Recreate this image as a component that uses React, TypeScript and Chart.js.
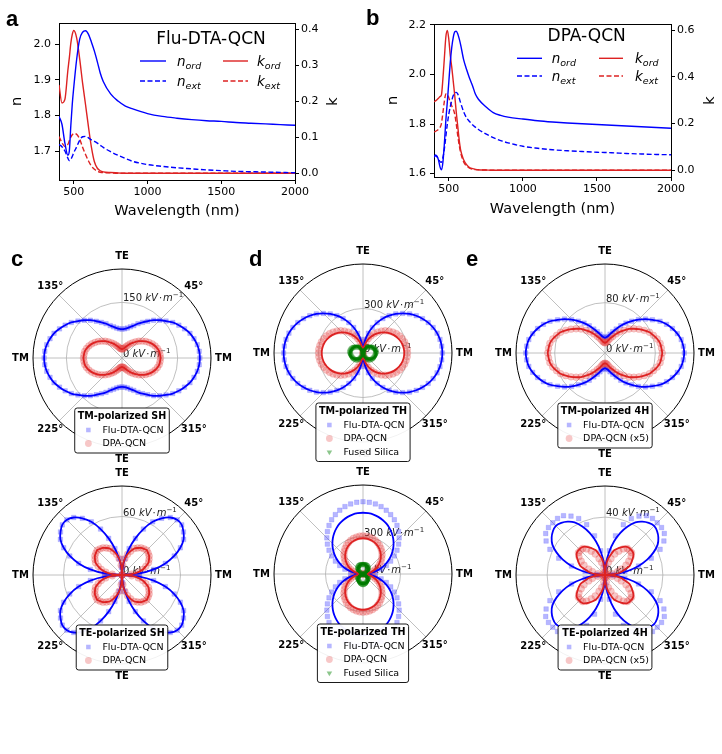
import React, { useEffect, useRef } from 'react';
import { Chart, registerables } from 'chart.js';

Chart.register(...registerables);

const FONT = '"DejaVu Sans", Verdana, sans-serif';
const BLUE = '#0000ff';
const RED = '#dd2222';
const GREEN = '#007a00';

// ---------- Optical constants, Flu-DTA-QCN (panel a) ----------
const WL_A = [400, 420, 440, 460, 470, 480, 490, 500, 520, 540, 560, 580, 600, 620, 640, 660, 680, 700, 750, 800, 850, 900, 1000, 1100, 1200, 1300, 1400, 1500, 1600, 1700, 1800, 1900, 2000];
const A_N_ORD = [1.797, 1.775, 1.722, 1.688, 1.700, 1.770, 1.832, 1.878, 1.958, 2.013, 2.033, 2.037, 2.027, 2.005, 1.980, 1.950, 1.918, 1.895, 1.860, 1.840, 1.826, 1.818, 1.805, 1.797, 1.792, 1.788, 1.785, 1.783, 1.780, 1.778, 1.776, 1.774, 1.772];
const A_N_EXT = [1.718, 1.712, 1.700, 1.680, 1.673, 1.676, 1.685, 1.695, 1.712, 1.730, 1.740, 1.741, 1.737, 1.731, 1.727, 1.722, 1.716, 1.710, 1.698, 1.688, 1.679, 1.671, 1.662, 1.657, 1.653, 1.650, 1.647, 1.645, 1.643, 1.642, 1.641, 1.640, 1.639];
const A_K_ORD = [0.245, 0.195, 0.205, 0.285, 0.320, 0.360, 0.385, 0.396, 0.375, 0.318, 0.250, 0.190, 0.128, 0.072, 0.032, 0.014, 0.007, 0.004, 0.002, 0.001, 0, 0, 0, 0, 0, 0, 0, 0, 0, 0, 0, 0, 0];
const A_K_EXT = [0.102, 0.085, 0.074, 0.080, 0.090, 0.100, 0.107, 0.110, 0.108, 0.095, 0.072, 0.052, 0.034, 0.020, 0.011, 0.006, 0.003, 0.002, 0.001, 0, 0, 0, 0, 0, 0, 0, 0, 0, 0, 0, 0, 0, 0];

// ---------- Optical constants, DPA-QCN (panel b) ----------
const WL_B = [400, 410, 420, 430, 440, 450, 460, 470, 480, 490, 500, 510, 520, 530, 540, 550, 560, 570, 580, 600, 620, 640, 660, 680, 700, 750, 800, 850, 900, 1000, 1100, 1200, 1300, 1400, 1500, 1600, 1700, 1800, 1900, 2000];
const B_N_ORD = [1.665, 1.675, 1.670, 1.655, 1.628, 1.615, 1.645, 1.720, 1.815, 1.890, 1.970, 2.050, 2.110, 2.150, 2.172, 2.175, 2.165, 2.145, 2.120, 2.060, 2.020, 1.985, 1.955, 1.920, 1.900, 1.870, 1.846, 1.835, 1.828, 1.820, 1.813, 1.808, 1.804, 1.801, 1.798, 1.795, 1.792, 1.789, 1.786, 1.783];
const B_N_EXT = [1.668, 1.672, 1.668, 1.660, 1.648, 1.645, 1.665, 1.700, 1.750, 1.800, 1.840, 1.870, 1.895, 1.915, 1.925, 1.928, 1.922, 1.905, 1.885, 1.850, 1.825, 1.810, 1.797, 1.787, 1.778, 1.760, 1.745, 1.733, 1.724, 1.710, 1.702, 1.696, 1.692, 1.689, 1.686, 1.684, 1.681, 1.679, 1.677, 1.676];
const B_K_ORD = [0.293, 0.297, 0.302, 0.308, 0.315, 0.322, 0.390, 0.480, 0.570, 0.598, 0.560, 0.490, 0.440, 0.380, 0.320, 0.250, 0.190, 0.130, 0.086, 0.045, 0.024, 0.012, 0.007, 0.004, 0.002, 0.001, 0, 0, 0, 0, 0, 0, 0, 0, 0, 0, 0, 0, 0, 0];
const B_K_EXT = [0.164, 0.166, 0.170, 0.175, 0.182, 0.200, 0.245, 0.295, 0.327, 0.326, 0.310, 0.290, 0.275, 0.262, 0.240, 0.200, 0.150, 0.108, 0.075, 0.036, 0.018, 0.009, 0.005, 0.003, 0.002, 0.001, 0, 0, 0, 0, 0, 0, 0, 0, 0, 0, 0, 0, 0, 0];

const WL_TICKS = [500, 1000, 1500, 2000];
const N_TICKS_A = [1.7, 1.8, 1.9, 2.0];
const K_TICKS_A = [0, 0.1, 0.2, 0.3, 0.4];
const N_TICKS_B = [1.6, 1.8, 2.0, 2.2];
const K_TICKS_B = [0, 0.2, 0.4, 0.6];

// ---------- Polarization dependence (field amplitude, kV/m), 0..355 deg ----------
const ANGLES = [0, 5, 10, 15, 20, 25, 30, 35, 40, 45, 50, 55, 60, 65, 70, 75, 80, 85, 90, 95, 100, 105, 110, 115, 120, 125, 130, 135, 140, 145, 150, 155, 160, 165, 170, 175, 180, 185, 190, 195, 200, 205, 210, 215, 220, 225, 230, 235, 240, 245, 250, 255, 260, 265, 270, 275, 280, 285, 290, 295, 300, 305, 310, 315, 320, 325, 330, 335, 340, 345, 350, 355];
const ANGLE_TICKS = [0, 45, 90, 135, 180, 225, 270, 315];
const ANGLE_TICK_LABELS = ['TM', '45°', 'TE', '135°', 'TM', '225°', 'TE', '315°'];

// c: second harmonic
const C_TM_FLU = [210, 209, 206, 201, 195, 186, 177, 167, 155, 144, 133, 121, 111, 102, 93, 87, 82, 79, 78, 79, 82, 87, 93, 102, 111, 121, 133, 144, 155, 167, 177, 186, 195, 201, 206, 209, 210, 209, 206, 201, 195, 186, 177, 167, 155, 144, 133, 121, 111, 102, 93, 87, 82, 79, 78, 79, 82, 87, 93, 102, 111, 121, 133, 144, 155, 167, 177, 186, 195, 201, 206, 209];
const C_TM_DPA = [104, 103, 102, 99, 95, 90, 84, 78, 71, 64, 57, 50, 44, 38, 33, 29, 26, 25, 24, 25, 26, 29, 33, 38, 44, 50, 57, 64, 71, 78, 84, 90, 95, 99, 102, 103, 104, 103, 102, 99, 95, 90, 84, 78, 71, 64, 57, 50, 44, 38, 33, 29, 26, 25, 24, 25, 26, 29, 33, 38, 44, 50, 57, 64, 71, 78, 84, 90, 95, 99, 102, 103];
const C_TE_FLU = [0, 18, 33, 46, 57, 66, 73, 77, 80, 80, 77, 71, 63, 52, 40, 28, 17, 8, 0, 8, 17, 28, 40, 52, 63, 71, 77, 80, 80, 77, 73, 66, 57, 46, 33, 18, 0, 18, 33, 46, 57, 66, 73, 77, 80, 80, 77, 71, 63, 52, 40, 28, 17, 8, 0, 8, 17, 28, 40, 52, 63, 71, 77, 80, 80, 77, 73, 66, 57, 46, 33, 18];
const C_TE_DPA = [0, 10, 17, 22, 26, 30, 32, 34, 35, 36, 35, 34, 32, 30, 26, 22, 17, 10, 0, 10, 17, 22, 26, 30, 32, 34, 35, 36, 35, 34, 32, 30, 26, 22, 17, 10, 0, 10, 17, 22, 26, 30, 32, 34, 35, 36, 35, 34, 32, 30, 26, 22, 17, 10, 0, 10, 17, 22, 26, 30, 32, 34, 35, 36, 35, 34, 32, 30, 26, 22, 17, 10];

// d: third harmonic
const D_TM_FLU = [535, 533, 527, 517, 503, 485, 463, 438, 410, 378, 344, 307, 268, 226, 183, 138, 93, 47, 0, 47, 93, 138, 183, 226, 268, 307, 344, 378, 410, 438, 463, 485, 503, 517, 527, 533, 535, 533, 527, 517, 503, 485, 463, 438, 410, 378, 344, 307, 268, 226, 183, 138, 93, 47, 0, 47, 93, 138, 183, 226, 268, 307, 344, 378, 410, 438, 463, 485, 503, 517, 527, 533];
const D_TM_DPA_FIT = [278, 277, 274, 269, 261, 252, 241, 228, 213, 197, 179, 159, 139, 117, 95, 72, 48, 24, 0, 24, 48, 72, 95, 117, 139, 159, 179, 197, 213, 228, 241, 252, 261, 269, 274, 277, 278, 277, 274, 269, 261, 252, 241, 228, 213, 197, 179, 159, 139, 117, 95, 72, 48, 24, 0, 24, 48, 72, 95, 117, 139, 159, 179, 197, 213, 228, 241, 252, 261, 269, 274, 277];
const D_TM_DPA = [300, 299, 295, 290, 282, 272, 260, 246, 230, 212, 193, 172, 150, 127, 103, 78, 52, 26, 0, 26, 52, 78, 103, 127, 150, 172, 193, 212, 230, 246, 260, 272, 282, 290, 295, 299, 300, 299, 295, 290, 282, 272, 260, 246, 230, 212, 193, 172, 150, 127, 103, 78, 52, 26, 0, 26, 52, 78, 103, 127, 150, 172, 193, 212, 230, 246, 260, 272, 282, 290, 295, 299];
const D_TM_SIL = [87, 87, 86, 84, 82, 79, 75, 71, 67, 62, 56, 50, 44, 37, 30, 23, 15, 8, 0, 8, 15, 23, 30, 37, 44, 50, 56, 62, 67, 71, 75, 79, 82, 84, 86, 87, 87, 87, 86, 84, 82, 79, 75, 71, 67, 62, 56, 50, 44, 37, 30, 23, 15, 8, 0, 8, 15, 23, 30, 37, 44, 50, 56, 62, 67, 71, 75, 79, 82, 84, 86, 87];
const D_TE_FLU_FIT = [0, 43, 85, 127, 168, 207, 245, 281, 315, 346, 375, 401, 424, 444, 460, 473, 483, 488, 490, 488, 483, 473, 460, 444, 424, 401, 375, 346, 315, 281, 245, 207, 168, 127, 85, 43, 0, 43, 85, 127, 168, 207, 245, 281, 315, 346, 375, 401, 424, 444, 460, 473, 483, 488, 490, 488, 483, 473, 460, 444, 424, 401, 375, 346, 315, 281, 245, 207, 168, 127, 85, 43];
const D_TE_FLU = [0, 50, 100, 150, 198, 244, 289, 332, 372, 409, 443, 474, 501, 524, 543, 558, 569, 576, 578, 576, 569, 558, 543, 524, 501, 474, 443, 409, 372, 332, 289, 244, 198, 150, 100, 50, 0, 50, 100, 150, 198, 244, 289, 332, 372, 409, 443, 474, 501, 524, 543, 558, 569, 576, 578, 576, 569, 558, 543, 524, 501, 474, 443, 409, 372, 332, 289, 244, 198, 150, 100, 50];
const D_TE_DPA_FIT = [0, 25, 50, 74, 98, 121, 143, 164, 184, 202, 219, 234, 248, 259, 269, 276, 282, 285, 286, 285, 282, 276, 269, 259, 248, 234, 219, 202, 184, 164, 143, 121, 98, 74, 50, 25, 0, 25, 50, 74, 98, 121, 143, 164, 184, 202, 219, 234, 248, 259, 269, 276, 282, 285, 286, 285, 282, 276, 269, 259, 248, 234, 219, 202, 184, 164, 143, 121, 98, 74, 50, 25];
const D_TE_DPA = [0, 27, 53, 79, 104, 129, 153, 175, 196, 216, 234, 250, 264, 276, 287, 295, 300, 304, 305, 304, 300, 295, 287, 276, 264, 250, 234, 216, 196, 175, 153, 129, 104, 79, 53, 27, 0, 27, 53, 79, 104, 129, 153, 175, 196, 216, 234, 250, 264, 276, 287, 295, 300, 304, 305, 304, 300, 295, 287, 276, 264, 250, 234, 216, 196, 175, 153, 129, 104, 79, 53, 27];
const D_TE_SIL = [0, 7, 14, 21, 27, 34, 40, 46, 51, 57, 61, 66, 69, 73, 75, 77, 79, 80, 80, 80, 79, 77, 75, 73, 69, 66, 61, 57, 51, 46, 40, 34, 27, 21, 14, 7, 0, 7, 14, 21, 27, 34, 40, 46, 51, 57, 61, 66, 69, 73, 75, 77, 79, 80, 80, 80, 79, 77, 75, 73, 69, 66, 61, 57, 51, 46, 40, 34, 27, 21, 14, 7];

// e: fourth harmonic
const E_TM_FLU = [126, 125, 123, 119, 114, 108, 101, 92, 84, 75, 66, 58, 50, 42, 36, 31, 27, 25, 24, 25, 27, 31, 36, 42, 50, 58, 66, 75, 84, 92, 101, 108, 114, 119, 123, 125, 126, 125, 123, 119, 114, 108, 101, 92, 84, 75, 66, 58, 50, 42, 36, 31, 27, 25, 24, 25, 27, 31, 36, 42, 50, 58, 66, 75, 84, 92, 101, 108, 114, 119, 123, 125];
const E_TM_DPA = [91, 90, 89, 86, 82, 78, 72, 66, 60, 54, 47, 41, 35, 29, 25, 21, 18, 17, 16, 17, 18, 21, 25, 29, 35, 41, 47, 54, 60, 66, 72, 78, 82, 86, 89, 90, 91, 90, 89, 86, 82, 78, 72, 66, 60, 54, 47, 41, 35, 29, 25, 21, 18, 17, 16, 17, 18, 21, 25, 29, 35, 41, 47, 54, 60, 66, 72, 78, 82, 86, 89, 90];
const E_TE_FLU_FIT = [0, 8, 16, 24, 31, 37, 42, 45, 47, 48, 47, 45, 42, 37, 31, 24, 16, 8, 0, 8, 16, 24, 31, 37, 42, 45, 47, 48, 47, 45, 42, 37, 31, 24, 16, 8, 0, 8, 16, 24, 31, 37, 42, 45, 47, 48, 47, 45, 42, 37, 31, 24, 16, 8, 0, 8, 16, 24, 31, 37, 42, 45, 47, 48, 47, 45, 42, 37, 31, 24, 16, 8];
const E_TE_FLU = [0, 6, 14, 24, 34, 42, 47, 50, 51, 51, 51, 50, 47, 43, 37, 28, 17, 7, 0, 7, 17, 28, 37, 43, 47, 50, 51, 51, 51, 50, 47, 42, 34, 24, 14, 6, 0, 6, 14, 24, 34, 42, 47, 50, 51, 51, 51, 50, 47, 43, 37, 28, 17, 7, 0, 7, 17, 28, 37, 43, 47, 50, 51, 51, 51, 50, 47, 42, 34, 24, 14, 6];
const E_TE_DPA_FIT = [0, 6, 11, 14, 18, 20, 22, 24, 25, 25, 25, 24, 22, 20, 18, 14, 11, 6, 0, 6, 11, 14, 18, 20, 22, 24, 25, 25, 25, 24, 22, 20, 18, 14, 11, 6, 0, 6, 11, 14, 18, 20, 22, 24, 25, 25, 25, 24, 22, 20, 18, 14, 11, 6, 0, 6, 11, 14, 18, 20, 22, 24, 25, 25, 25, 24, 22, 20, 18, 14, 11, 6];
const E_TE_DPA = [0, 2, 5, 9, 12, 16, 19, 22, 24, 24, 24, 22, 19, 16, 12, 9, 5, 2, 0, 2, 5, 9, 12, 16, 19, 22, 24, 24, 24, 22, 19, 16, 12, 9, 5, 2, 0, 2, 5, 9, 12, 16, 19, 22, 24, 24, 24, 22, 19, 16, 12, 9, 5, 2, 0, 2, 5, 9, 12, 16, 19, 22, 24, 24, 24, 22, 19, 16, 12, 9, 5, 2];

// ---------- Spectrum panels ----------
type SpectrumPanel = {
  name: string; wl: number[]; nOrd: number[]; nExt: number[]; kOrd: number[]; kExt: number[];
  nRange: [number, number]; kRange: [number, number]; nTicks: number[]; kTicks: number[];
  padTop: number; leftW: number; rightW: number; xH: number;
  nameX: number; nameY: number; legBlue: [number, number]; legRed: [number, number];
  legRows: [number, number]; legTextBlue: number; legTextRed: number;
  xTitleY: number; nTitleX: number; kTitleX: number;
};

const PANEL_A: SpectrumPanel = {
  name: 'Flu-DTA-QCN', wl: WL_A, nOrd: A_N_ORD, nExt: A_N_EXT, kOrd: A_K_ORD, kExt: A_K_EXT,
  nRange: [1.6187, 2.0589], kRange: [-0.0186, 0.4167], nTicks: N_TICKS_A, kTicks: K_TICKS_A,
  padTop: 23, leftW: 59, rightW: 65, xH: 45,
  nameX: 211, nameY: 40, legBlue: [140, 166], legRed: [223, 248], legRows: [61, 81], legTextBlue: 177, legTextRed: 257,
  xTitleY: 211.5, nTitleX: 17.5, kTitleX: 333,
};

const PANEL_B: SpectrumPanel = {
  name: 'DPA-QCN', wl: WL_B, nOrd: B_N_ORD, nExt: B_N_EXT, kOrd: B_K_ORD, kExt: B_K_EXT,
  nRange: [1.586, 2.204], kRange: [-0.0287, 0.6257], nTicks: N_TICKS_B, kTicks: K_TICKS_B,
  padTop: 24, leftW: 74, rightW: 51, xH: 48,
  nameX: 226.7, nameY: 36.7, legBlue: [157, 182], legRed: [239, 263], legRows: [58.3, 76], legTextBlue: 191.7, legTextRed: 275,
  xTitleY: 209, nTitleX: 33, kTitleX: 350,
};

function drawSubLabel(ctx: CanvasRenderingContext2D, x: number, y: number, main: string, sub: string) {
  ctx.textAlign = 'left';
  ctx.textBaseline = 'alphabetic';
  ctx.font = `italic 13.5px ${FONT}`;
  ctx.fillText(main, x, y);
  const w = ctx.measureText(main).width;
  ctx.font = `italic 9.5px ${FONT}`;
  ctx.fillText(sub, x + w, y + 3);
}

function spectrumDecor(p: SpectrumPanel) {
  return {
    id: 'spectrumDecor',
    afterDraw(chart: any) {
      const { ctx, chartArea: a } = chart;
      ctx.save();
      ctx.strokeStyle = '#000';
      ctx.lineWidth = 1;
      const ty = Math.round(a.top) + 0.5;
      ctx.beginPath();
      ctx.moveTo(a.left, ty);
      ctx.lineTo(a.right, ty);
      ctx.stroke();

      ctx.fillStyle = '#000';
      ctx.textAlign = 'center';
      ctx.textBaseline = 'middle';
      ctx.font = `14.5px ${FONT}`;
      ctx.fillText('Wavelength (nm)', (a.left + a.right) / 2, p.xTitleY);
      const my = (a.top + a.bottom) / 2;
      for (const [t, x] of [['n', p.nTitleX], ['k', p.kTitleX]] as [string, number][]) {
        ctx.save();
        ctx.translate(x, my);
        ctx.rotate(-Math.PI / 2);
        ctx.fillText(t, 0, 0);
        ctx.restore();
      }
      ctx.font = `17px ${FONT}`;
      ctx.fillText(p.name, p.nameX, p.nameY);

      // legend: ordinary / extraordinary
      const rows: [string, number[]][] = [
        ['ord', []],
        ['ext', [5, 2.5]],
      ];
      rows.forEach(([sub, dash], i) => {
        const y = p.legRows[i];
        ctx.lineWidth = 1.4;
        ctx.setLineDash(dash);
        ctx.strokeStyle = BLUE;
        ctx.beginPath(); ctx.moveTo(p.legBlue[0], y); ctx.lineTo(p.legBlue[1], y); ctx.stroke();
        ctx.strokeStyle = RED;
        ctx.beginPath(); ctx.moveTo(p.legRed[0], y); ctx.lineTo(p.legRed[1], y); ctx.stroke();
        ctx.setLineDash([]);
        ctx.fillStyle = '#000';
        drawSubLabel(ctx, p.legTextBlue, y + 4.5, 'n', sub);
        drawSubLabel(ctx, p.legTextRed, y + 4.5, 'k', sub);
      });
      ctx.restore();
    },
  };
}

function axisTicks(values: number[]) {
  return (ax: any) => { ax.ticks = values.map((v) => ({ value: v })); };
}

function spectrumConfig(p: SpectrumPanel): any {
  const pts = (ys: number[]) => p.wl.map((x, i) => ({ x, y: ys[i] }));
  const common = { pointRadius: 0, fill: false, borderWidth: 1.4, cubicInterpolationMode: 'monotone' };
  const tickFont = { family: FONT, size: 11 };
  const grid = { drawOnChartArea: false, color: '#000', tickColor: '#000', tickLength: 4, tickWidth: 1 };
  const border = { color: '#000', width: 1 };
  return {
    type: 'line',
    data: {
      datasets: [
        { ...common, data: pts(p.nOrd), yAxisID: 'yN', borderColor: BLUE },
        { ...common, data: pts(p.nExt), yAxisID: 'yN', borderColor: BLUE, borderDash: [5, 2.5] },
        { ...common, data: pts(p.kOrd), yAxisID: 'yK', borderColor: RED },
        { ...common, data: pts(p.kExt), yAxisID: 'yK', borderColor: RED, borderDash: [5, 2.5] },
      ],
    },
    options: {
      responsive: false,
      animation: false,
      events: [],
      devicePixelRatio: 1,
      layout: { padding: { top: p.padTop, left: 0, right: 0, bottom: 0 } },
      plugins: { legend: { display: false }, tooltip: { enabled: false } },
      scales: {
        x: {
          type: 'linear', min: 400, max: 2000,
          afterBuildTicks: axisTicks(WL_TICKS),
          afterFit: (ax: any) => { ax.height = p.xH; },
          ticks: { font: tickFont, color: '#000', padding: 2, maxRotation: 0, autoSkip: false, callback: (v: any) => String(v) },
          grid, border,
        },
        yN: {
          type: 'linear', position: 'left', min: p.nRange[0], max: p.nRange[1],
          afterBuildTicks: axisTicks(p.nTicks),
          afterFit: (ax: any) => { ax.width = p.leftW; },
          ticks: { font: tickFont, color: '#000', padding: 4, autoSkip: false, callback: (v: any) => Number(v).toFixed(1) },
          grid, border,
        },
        yK: {
          type: 'linear', position: 'right', min: p.kRange[0], max: p.kRange[1],
          afterBuildTicks: axisTicks(p.kTicks),
          afterFit: (ax: any) => { ax.width = p.rightW; },
          ticks: { font: tickFont, color: '#000', padding: 2, autoSkip: false, callback: (v: any) => Number(v).toFixed(1) },
          grid, border,
        },
      },
    },
    plugins: [spectrumDecor(p)],
  };
}

// ---------- Polar panels ----------
type Marker = 'rect' | 'circle' | 'triangle';
type PolarSeries = {
  label: string; fit: number[]; data: number[];
  line: string; fill: string; edge: string; marker: Marker; radius: number; lineWidth: number;
};
type PolarPanel = { key: string; left: number; top: number; title: string; rMax: number; rTick: number; series: PolarSeries[] };

const flu = (fit: number[], data: number[]): PolarSeries => ({
  label: 'Flu-DTA-QCN', fit, data, line: BLUE, fill: 'rgba(80,80,255,0.42)', edge: 'rgba(80,80,255,0.35)', marker: 'rect', radius: 3.2, lineWidth: 1.8,
});
const dpa = (fit: number[], data: number[], label: string): PolarSeries => ({
  label, fit, data, line: RED, fill: 'rgba(228,70,70,0.3)', edge: 'rgba(228,70,70,0.3)', marker: 'circle', radius: 3.4, lineWidth: 1.8,
});
const silica = (fit: number[], data: number[]): PolarSeries => ({
  label: 'Fused Silica', fit, data, line: GREEN, fill: 'rgba(0,128,0,0.45)', edge: 'rgba(0,128,0,0.45)', marker: 'triangle', radius: 3.2, lineWidth: 2.2,
});

const POLARS: PolarPanel[] = [
  { key: 'c1', left: 2, top: 238, title: 'TM-polarized SH', rMax: 240, rTick: 150, series: [flu(C_TM_FLU, C_TM_FLU), dpa(C_TM_DPA, C_TM_DPA, 'DPA-QCN')] },
  { key: 'd1', left: 243, top: 233, title: 'TM-polarized TH', rMax: 600, rTick: 300, series: [flu(D_TM_FLU, D_TM_FLU), dpa(D_TM_DPA_FIT, D_TM_DPA, 'DPA-QCN'), silica(D_TM_SIL, D_TM_SIL)] },
  { key: 'e1', left: 485, top: 233, title: 'TM-polarized 4H', rMax: 141.5, rTick: 80, series: [flu(E_TM_FLU, E_TM_FLU), dpa(E_TM_DPA, E_TM_DPA, 'DPA-QCN (x5)')] },
  { key: 'c2', left: 2, top: 455, title: 'TE-polarized SH', rMax: 91.3, rTick: 60, series: [flu(C_TE_FLU, C_TE_FLU), dpa(C_TE_DPA, C_TE_DPA, 'DPA-QCN')] },
  { key: 'd2', left: 243, top: 454, title: 'TE-polarized TH', rMax: 712, rTick: 300, series: [flu(D_TE_FLU_FIT, D_TE_FLU), dpa(D_TE_DPA_FIT, D_TE_DPA, 'DPA-QCN'), silica(D_TE_SIL, D_TE_SIL)] },
  { key: 'e2', left: 485, top: 455, title: 'TE-polarized 4H', rMax: 61.5, rTick: 40, series: [flu(E_TE_FLU_FIT, E_TE_FLU), dpa(E_TE_DPA_FIT, E_TE_DPA, 'DPA-QCN (x5)')] },
];

// radar scale runs clockwise from its start angle; reorder so angles run counter-clockwise from TM
const ccw = (vals: any[]) => vals.map((_, i) => vals[(vals.length - i) % vals.length]);

function drawMarker(ctx: CanvasRenderingContext2D, m: Marker, x: number, y: number, r: number, fill: string) {
  ctx.fillStyle = fill;
  ctx.beginPath();
  if (m === 'rect') {
    const s = r * Math.SQRT1_2;
    ctx.rect(x - s, y - s, 2 * s, 2 * s);
  } else if (m === 'circle') {
    ctx.arc(x, y, r, 0, Math.PI * 2);
  } else {
    ctx.moveTo(x, y + r);
    ctx.lineTo(x - r * 0.866, y - r / 2);
    ctx.lineTo(x + r * 0.866, y - r / 2);
    ctx.closePath();
  }
  ctx.fill();
}

function drawFieldLabel(ctx: CanvasRenderingContext2D, x: number, y: number, value: string) {
  ctx.textAlign = 'left';
  ctx.textBaseline = 'alphabetic';
  ctx.fillStyle = '#222';
  const parts: [string, string, number, number][] = [
    [value + ' ', `10px ${FONT}`, 0, 0],
    ['kV', `italic 10px ${FONT}`, 0, 1],
    ['·', `10px ${FONT}`, 0, 1],
    ['m', `italic 10px ${FONT}`, 0, 0],
    ['−1', `7px ${FONT}`, -4, 0],
  ];
  let cx = x;
  for (const [t, f, dy, after] of parts) {
    ctx.font = f;
    ctx.fillText(t, cx, y + dy);
    cx += ctx.measureText(t).width + after;
  }
}

function polarDecor(p: PolarPanel) {
  return {
    id: 'polarDecor',
    beforeDatasetsDraw(chart: any) {
      const s = chart.scales.r;
      const ctx: CanvasRenderingContext2D = chart.ctx;
      const cx = s.xCenter, cy = s.yCenter, R = s.drawingArea;
      const rt = s.getDistanceFromCenterForValue(p.rTick);
      ctx.save();
      ctx.strokeStyle = '#b0b0b0';
      ctx.lineWidth = 0.8;
      ctx.beginPath();
      ctx.arc(cx, cy, rt, 0, Math.PI * 2);
      ctx.stroke();
      ANGLE_TICKS.forEach((a) => {
        const t = (a * Math.PI) / 180;
        ctx.beginPath();
        ctx.moveTo(cx, cy);
        ctx.lineTo(cx + R * Math.cos(t), cy - R * Math.sin(t));
        ctx.stroke();
      });
      ctx.strokeStyle = '#000';
      ctx.lineWidth = 1;
      ctx.beginPath();
      ctx.arc(cx, cy, R, 0, Math.PI * 2);
      ctx.stroke();

      ctx.fillStyle = '#000';
      ctx.font = `bold 10px ${FONT}`;
      ctx.textAlign = 'center';
      ctx.textBaseline = 'middle';
      ANGLE_TICKS.forEach((a, i) => {
        const t = (a * Math.PI) / 180;
        const d = R + 12.5;
        ctx.fillText(ANGLE_TICK_LABELS[i], cx + d * Math.cos(t), cy - d * Math.sin(t));
      });

      drawFieldLabel(ctx, cx + 1, cy - rt - 1, String(p.rTick));
      drawFieldLabel(ctx, cx + 1, cy - 1.5, '0');
      ctx.restore();
    },
    afterDraw(chart: any) {
      const s = chart.scales.r;
      const ctx: CanvasRenderingContext2D = chart.ctx;
      const cx = s.xCenter, cy = s.yCenter;
      ctx.save();
      ctx.font = `bold 9.6px ${FONT}`;
      const titleW = ctx.measureText(p.title).width;
      ctx.font = `9.5px ${FONT}`;
      const textW = Math.max(...p.series.map((e) => ctx.measureText(e.label).width));
      const handleW = 16, gap = 6, pad = 3;
      const entriesW = handleW + gap + textW;
      const w = Math.max(titleW, entriesW) + 2 * pad;
      const top = cy + 50;
      const h = 22 + 13.5 * (p.series.length - 1) + 9.5;
      const left = cx - w / 2;
      ctx.beginPath();
      (ctx as any).roundRect(left, top, w, h, 2.5);
      ctx.fillStyle = 'rgba(255,255,255,0.95)';
      ctx.fill();
      ctx.strokeStyle = '#000';
      ctx.lineWidth = 0.9;
      ctx.stroke();

      ctx.fillStyle = '#000';
      ctx.textAlign = 'center';
      ctx.textBaseline = 'middle';
      ctx.font = `bold 9.6px ${FONT}`;
      ctx.fillText(p.title, cx, top + 8.5);
      const bx = cx - entriesW / 2;
      p.series.forEach((e, i) => {
        const y = top + 22 + 13.5 * i;
        drawMarker(ctx, e.marker, bx + handleW / 2, y, e.radius, e.fill);
        ctx.fillStyle = '#000';
        ctx.textAlign = 'left';
        ctx.font = `9.5px ${FONT}`;
        ctx.fillText(e.label, bx + handleW + gap, y + 0.5);
      });
      ctx.restore();
    },
  };
}

function polarConfig(p: PolarPanel): any {
  const datasets: any[] = [];
  p.series.forEach((e, k) => {
    datasets.push({
      data: ccw(e.data),
      showLine: false,
      fill: false,
      borderColor: 'rgba(0,0,0,0)',
      borderWidth: 0,
      pointStyle: e.marker,
      pointRotation: e.marker === 'triangle' ? 180 : 0,
      pointRadius: e.radius,
      pointBackgroundColor: e.fill,
      pointBorderColor: e.edge,
      pointBorderWidth: 0.6,
      order: 100 - k,
    });
    datasets.push({
      data: ccw(e.fit),
      fill: false,
      borderColor: e.line,
      borderWidth: e.lineWidth,
      backgroundColor: 'rgba(0,0,0,0)',
      pointRadius: 0,
      tension: 0.2,
      order: 50 - k,
    });
  });
  return {
    type: 'radar',
    data: { labels: ccw(ANGLES).map(String), datasets },
    options: {
      responsive: false,
      animation: false,
      events: [],
      devicePixelRatio: 1,
      layout: { padding: 31 },
      plugins: { legend: { display: false }, tooltip: { enabled: false } },
      scales: {
        r: {
          min: 0,
          max: p.rMax,
          startAngle: 90,
          ticks: { display: false },
          grid: { display: false },
          angleLines: { display: false },
          pointLabels: { display: false },
        },
      },
    },
    plugins: [polarDecor(p)],
  };
}

function ChartCanvas({ left, top, width, height, build }: { left: number; top: number; width: number; height: number; build: () => any }) {
  const ref = useRef<HTMLCanvasElement>(null);
  useEffect(() => {
    const chart = new Chart(ref.current as HTMLCanvasElement, build());
    return () => chart.destroy();
  }, []);
  return <canvas ref={ref} width={width} height={height} style={{ position: 'absolute', left, top, width, height }} />;
}

const LETTERS = [
  { t: 'a', x: 6, y: 7.5 },
  { t: 'b', x: 366, y: 7 },
  { t: 'c', x: 11, y: 248 },
  { t: 'd', x: 249, y: 247.5 },
  { t: 'e', x: 466, y: 247.5 },
];

export default function App() {
  return (
    <div style={{ position: 'absolute', left: 0, top: 0, width: 722, height: 754, overflow: 'hidden', background: '#fff' }}>
      <ChartCanvas left={0} top={0} width={360} height={225} build={() => spectrumConfig(PANEL_A)} />
      <ChartCanvas left={360} top={0} width={362} height={225} build={() => spectrumConfig(PANEL_B)} />
      {POLARS.map((p) => (
        <ChartCanvas key={p.key} left={p.left} top={p.top} width={240} height={240} build={() => polarConfig(p)} />
      ))}
      {LETTERS.map((l) => (
        <div
          key={l.t}
          style={{ position: 'absolute', left: l.x, top: l.y, font: 'bold 22px "Liberation Sans", Arial, sans-serif', lineHeight: '22px', color: '#000' }}
        >
          {l.t}
        </div>
      ))}
    </div>
  );
}
